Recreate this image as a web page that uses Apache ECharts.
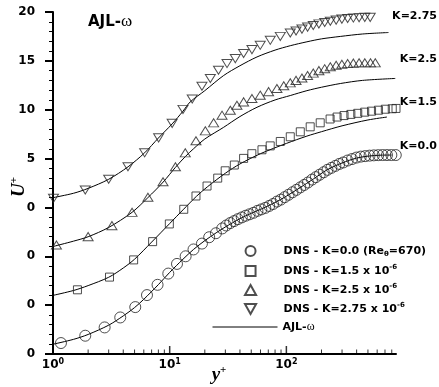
<!DOCTYPE html>
<html>
<head>
<meta charset="utf-8">
<script src="https://cdn.jsdelivr.net/npm/echarts@6/dist/echarts.min.js"></script>
<style>html,body{margin:0;padding:0;background:#fff}#c{width:439px;height:387px}</style>
</head>
<body>
<div id="c"></div>
<script>
// ---- data (y+, U+) ----
const dnsK0 = [[1.17,1.12],[1.89,1.87],[2.77,2.72],[3.77,3.74],[5.07,4.8],[6.39,6.03],[7.87,7.08],[9.73,8.23],[11.55,9.22],[13.7,10.0],[16.0,10.7],[18.9,11.3],[21.8,11.95],[24.9,12.36],
[28.2,12.85],[30.5,13.15],[33,13.4],[35.6,13.6],[38.4,13.8],[41.5,13.98],[44.8,14.15],[48.4,14.3],[52.3,14.45],[56.5,14.65],[61,14.8],[65.9,14.95],[71.2,15.15],[76.9,15.35],[83,15.6],[89.6,15.8],[96.8,16.05],[104.5,16.3],[112.9,16.55],[121.9,16.8],[131.7,17.05],[142,17.3],[153,17.55],[166,17.85],[179,18.1],[193,18.35],[209,18.6],[225,18.85],[243,19.05],[263,19.25],[284,19.45],[307,19.6],[335,19.8],[365,19.95],[398,20.1],[434,20.2],[473,20.25],[516,20.3],[562,20.33],[613,20.35],[668,20.36],[728,20.36],[794,20.36],[866,20.36]];
const dnsK15 = [[1.62,1.57],[3.05,2.87],[4.91,4.63],[7.14,6.5],[9.93,8.31],[13.2,9.81],[16.8,11.17],[20.9,12.19],[25.8,13.0],[29.9,13.75],[35.8,14.34],[43,15.02],[50.6,15.5],[61.8,15.9],[72.7,16.3],[88.7,16.75],[108,17.23],[131.6,17.74],[160,18.25],[195,18.66],[237,19.05],[272,19.25],[312,19.4],[357,19.52],[409,19.63],[469,19.75],[537,19.85],[615,19.95],[705,20.05],[808,20.1],[870,20.13]];
const dnsK25 = [[1.07,1.16],[2.0,2.01],[3.2,3.14],[4.76,4.5],[6.51,6.04],[8.77,7.63],[11.2,9.16],[13.6,10.59],[16.8,11.82],[20.2,12.84],[23.8,13.66],[28.1,14.44],[33.1,14.95],[37.7,15.46],[43,15.8],[50.7,16.15],[59.7,16.49],[70.4,16.85],[83,17.17],[95,17.45],[108,17.75],[121,18.0],[136,18.25],[152,18.5],[170,18.75],[190,19.0],[213,19.2],[238,19.4],[267,19.55],[299,19.65],[335,19.72],[375,19.77],[420,19.8],[470,19.8],[526,19.8],[578,19.8]];
const dnsK275 = [[1.01,0.93],[1.89,1.78],[3.0,2.88],[4.39,4.16],[6.1,5.59],[8.04,7.12],[10.5,8.6],[13.0,10.03],[15.6,11.1],[18.9,12.4],[22.3,13.19],[26.2,14.04],[31,14.72],[36.5,15.23],[43,15.75],[50.7,16.15],[59.7,16.59],[72.8,17.1],[88.7,17.5],[108,17.85],[121,18.05],[136,18.25],[152,18.45],[170,18.62],[190,18.78],[213,18.92],[238,19.05],[267,19.17],[299,19.27],[335,19.33],[375,19.38],[420,19.42],[470,19.45],[523,19.45]];
const ajlK0 = [[1,1.0],[1.5,1.5],[2,2.0],[3,2.95],[4,3.9],[5,4.75],[6,5.6],[8,7.1],[10,8.35],[13,9.7],[16,10.7],[20,11.6],[25,12.4],[30,13.0],[40,13.85],[50,14.4],[60,14.8],[80,15.5],[100,16.15],[130,17.0],[170,17.9],[220,18.8],[300,19.55],[400,20.05],[500,20.25],[650,20.35],[800,20.36]];
const ajlK15 = [[1,1.0],[1.5,1.5],[2,2.0],[3,2.85],[4,3.8],[5,4.7],[7,6.45],[10,8.35],[13,9.75],[17,11.15],[21,12.1],[30,13.5],[40,14.45],[60,15.5],[100,16.55],[150,17.3],[200,17.75],[300,18.35],[500,18.95],[728,19.25]];
const ajlK25 = [[1,1.0],[1.5,1.55],[2,2.0],[3,2.95],[4.76,4.5],[6.5,6.0],[8.8,7.6],[11.2,9.1],[13.6,10.2],[16,11.0],[20,12.0],[29,13.2],[40,14.3],[56,15.25],[80,16.0],[108,16.45],[150,16.95],[200,17.3],[290,17.68],[450,18.0],[857,18.2]];
const ajlK275 = [[1,1.0],[1.5,1.45],[2,1.95],[3,2.88],[4.4,4.16],[6.1,5.59],[8,7.1],[10.5,8.55],[13,9.85],[15,10.8],[20,11.95],[29,13.5],[40,14.5],[56,15.4],[80,16.1],[108,16.55],[150,16.95],[200,17.25],[290,17.5],[450,17.75],[750,17.9]];
const profileShifts = [0, 5, 10, 15];          // vertical offset of each profile
const yTickLabels = ['0','0','0','0','5','10','15','20']; // labels for 0,5,...,35
const xMajorTicks = [1, 10, 100];
const xTickExponents = ['0','1','2'];          // 10^0, 10^1, 10^2
const xMinorTicks = [2,3,4,5,6,7,8,9,20,30,40,50,60,70,80,90,200,300,400,500,600,700,800];
const dnsNames = ['DNS - K=0.0 (Reθ=670)','DNS - K=1.5 x 10-6','DNS - K=2.5 x 10-6','DNS - K=2.75 x 10-6'];
const dnsLegendRich = ['{b|DNS - K=0.0 (Re}{sub|θ}{b|=670)}','{b|DNS - K=1.5 x 10}{sup|-6}','{b|DNS - K=2.5 x 10}{sup|-6}','{b|DNS - K=2.75 x 10}{sup|-6}'];
const modelName = 'AJL-ω';
const curveLabels = ['K=0.0','K=1.5','K=2.5','K=2.75'];

const shift = (arr, s) => arr.map(p => [p[0], p[1] + s]);
const dnsSets = [dnsK0, dnsK15, dnsK25, dnsK275];
const ajlSets = [ajlK0, ajlK15, ajlK25, ajlK275];
const symbols = [
  {symbol:'circle', size:11},
  {symbol:'path://M0,0L8,0L8,8L0,8Z', size:8},
  {symbol:'path://M5,0L10,9L0,9Z', size:[10,9]},
  {symbol:'path://M0,0L10,0L5,9Z', size:[10,9]}
];
const FONT = 'DejaVu Sans';
const markerStyle = {color:'rgba(0,0,0,0)', borderColor:'#222', borderWidth:1};

const series = [];
ajlSets.forEach((d, i) => {
  series.push({type:'line', name:modelName, data:shift(d, profileShifts[i]), symbol:'none', showSymbol:false, smooth:0.3,
    lineStyle:{color:'#000', width:1}, itemStyle:{color:'#000'}, z:2, clip:false});
});
dnsSets.forEach((d, i) => {
  series.push({type:'scatter', name:dnsNames[i], data:shift(d, profileShifts[i]),
    symbol:symbols[i].symbol, symbolSize:symbols[i].size, symbolKeepAspect:true,
    itemStyle:markerStyle, z:3, clip:false});
});
series.push({type:'scatter', name:'minorTicks', data:xMinorTicks.map(v => [v, 0]), symbol:'rect',
  symbolSize:[1,3.5], symbolOffset:[0,-2.75], itemStyle:{color:'#000'}, silent:true, z:5, clip:false});
series.push({type:'scatter', name:'majorTicks', data:xMajorTicks.map(v => [v, 0]), symbol:'rect',
  symbolSize:[1.5,7], symbolOffset:[0,-4.5], itemStyle:{color:'#000'}, silent:true, z:5, clip:false});

const richBase = {
  b:{fontFamily:FONT, fontWeight:'bold', fontSize:11, color:'#000', lineHeight:14},
  sup:{fontFamily:FONT, fontWeight:'bold', fontSize:7, color:'#000', lineHeight:8, verticalAlign:'top'},
  sub:{fontFamily:FONT, fontWeight:'bold', fontSize:7, color:'#000', lineHeight:8, verticalAlign:'bottom'}
};
const titleRich = {
  n:{fontFamily:'Liberation Serif', fontStyle:'italic', fontWeight:'bold', fontSize:19, fill:'#000', lineHeight:20},
  s:{fontFamily:'Liberation Serif', fontWeight:'bold', fontSize:11, fill:'#000', lineHeight:10, verticalAlign:'top'}
};

const chart = echarts.init(document.getElementById('c'), null, {renderer:'canvas'});
chart.setOption({
  animation:false,
  backgroundColor:'#fff',
  grid:{left:53, top:12, width:343, height:342},
  xAxis:{type:'log', logBase:10, min:1, max:870,
    axisLine:{show:true, lineStyle:{color:'#000', width:2}},
    axisTick:{show:false},
    splitLine:{show:false},
    axisLabel:{margin:4, showMaxLabel:false, formatter:v => {
        const e = xTickExponents[Math.round(Math.log10(v))];
        return e === undefined ? '' : '{b|10}{sup|' + e + '}';
      },
      rich:{b:{fontFamily:FONT, fontWeight:'bold', fontSize:12, color:'#000', lineHeight:14},
            sup:{fontFamily:FONT, fontWeight:'bold', fontSize:8, color:'#000', lineHeight:9, verticalAlign:'top'}}}
  },
  yAxis:{type:'value', min:0, max:35, interval:5,
    axisLine:{show:true, lineStyle:{color:'#000', width:2}},
    axisTick:{show:true, inside:false, length:8, lineStyle:{color:'#000', width:2}},
    minorTick:{show:true, splitNumber:5, length:4, lineStyle:{color:'#000', width:1}},
    splitLine:{show:false},
    axisLabel:{margin:18, fontFamily:FONT, fontWeight:'bold', fontSize:12, color:'#000',
      formatter:v => yTickLabels[Math.round(v/5)]}
  },
  legend:[
    {data:dnsNames, orient:'vertical', left:244, top:245, padding:0, itemWidth:56, itemHeight:10, itemGap:6,
      selectedMode:false, symbolKeepAspect:true, formatter:n => dnsLegendRich[dnsNames.indexOf(n)],
      textStyle:{rich:richBase}},
    {data:[modelName], orient:'vertical', left:212, top:321, padding:0, itemWidth:65, itemHeight:14,
      selectedMode:false, formatter:'{b|AJL-}{w|ω}',
      itemStyle:{color:'rgba(0,0,0,0)', borderWidth:0, borderColor:'rgba(0,0,0,0)'},
      lineStyle:{color:'#000', width:1},
      textStyle:{rich:{b:richBase.b, w:{fontFamily:'Liberation Serif', fontSize:12, color:'#000', lineHeight:14}}}}
  ],
  graphic:[
    {type:'text', x:88, y:22, style:{rich:{a:{fontFamily:FONT, fontWeight:'bold', fontSize:15, fill:'#000'}, w:{fontFamily:'Liberation Serif', fontSize:17, fill:'#000'}},
      text:'{a|AJL-}{w|ω}', textVerticalAlign:'middle'}},
    {type:'text', x:437, y:146, style:{text:curveLabels[0], font:'bold 11px "DejaVu Sans"', fill:'#000', textAlign:'right', textVerticalAlign:'middle'}},
    {type:'text', x:437, y:102, style:{text:curveLabels[1], font:'bold 11px "DejaVu Sans"', fill:'#000', textAlign:'right', textVerticalAlign:'middle'}},
    {type:'text', x:437, y:59, style:{text:curveLabels[2], font:'bold 11px "DejaVu Sans"', fill:'#000', textAlign:'right', textVerticalAlign:'middle'}},
    {type:'text', x:437, y:16, style:{text:curveLabels[3], font:'bold 11px "DejaVu Sans"', fill:'#000', textAlign:'right', textVerticalAlign:'middle'}},
    {type:'text', x:19, y:187, rotation:Math.PI/2, style:{text:'{n|U}{s|+}', rich:titleRich, textAlign:'center', textVerticalAlign:'middle'}},
    {type:'text', x:219, y:375, style:{text:'{n|y}{s|+}', rich:titleRich, textAlign:'center', textVerticalAlign:'middle'}}
  ],
  series:series
});
</script>
</body>
</html>
